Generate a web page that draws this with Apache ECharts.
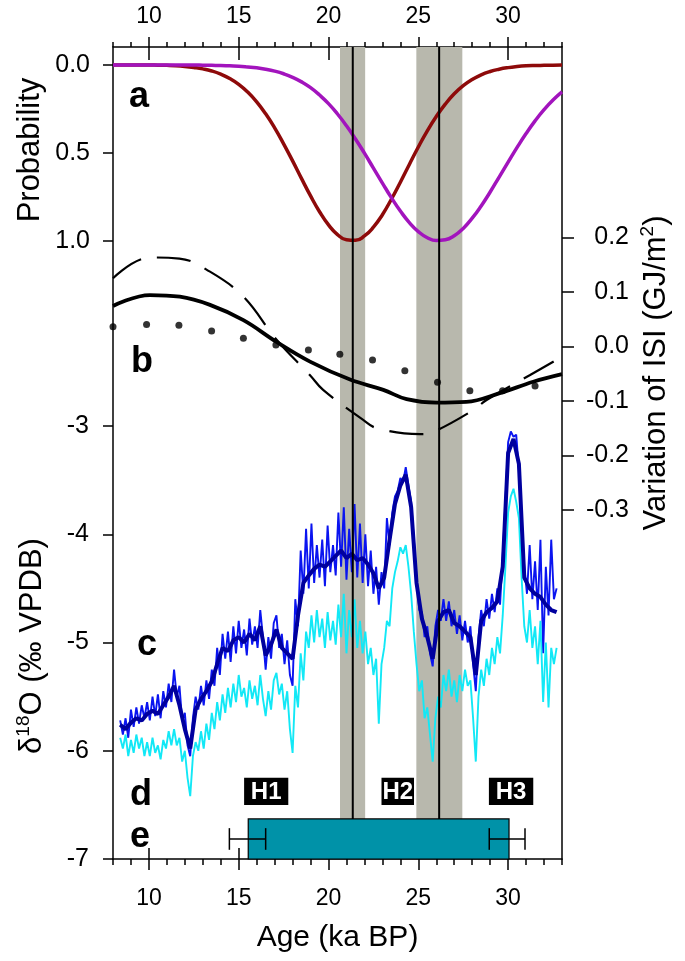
<!DOCTYPE html>
<html><head><meta charset="utf-8">
<script src="https://cdn.jsdelivr.net/npm/echarts@6/dist/echarts.min.js"></script>
<style>html,body{margin:0;padding:0;background:#fff}#c{width:685px;height:961px}</style>
</head><body><div id="c"></div>
<script>
// ---------------- DATA ----------------
const xMajorTicks = [10, 15, 20, 25, 30];
const xMinorTicks = [8,9,10,11,12,13,14,15,16,17,18,19,20,21,22,23,24,25,26,27,28,29,30,31,32,33];
const probTicks = [0, 0.5, 1];
const d18Ticks = [-7, -6, -5, -4, -3];
const isiTicks = [-0.3, -0.2, -0.1, 0, 0.1, 0.2];

// (a) probability curves
const probAges = [8,8.5,9,9.5,10,10.5,11,11.5,12,12.5,13,13.5,14,14.5,15,15.5,16,16.5,17,17.5,18,18.5,19,19.5,20,20.5,21,21.5,22,22.5,23,23.5,24,24.5,25,25.5,26,26.5,27,27.5,28,28.5,29,29.5,30,30.5,31,31.5,32,32.5,33];
const probRed = [0,0,0,0,0,0.001,0.002,0.004,0.008,0.014,0.022,0.034,0.052,0.077,0.110,0.154,0.210,0.278,0.358,0.449,0.546,0.647,0.745,0.835,0.910,0.965,0.995,0.998,0.973,0.923,0.852,0.764,0.667,0.566,0.467,0.375,0.293,0.223,0.164,0.118,0.083,0.056,0.037,0.024,0.015,0.009,0.005,0.003,0.002,0.001,0];
const probPurple = [0,0,0,0,0,0,0,0,0,0,0.001,0.002,0.003,0.005,0.007,0.011,0.016,0.024,0.035,0.050,0.070,0.096,0.129,0.171,0.220,0.279,0.346,0.421,0.502,0.587,0.672,0.755,0.831,0.897,0.948,0.983,0.999,0.995,0.972,0.930,0.872,0.802,0.723,0.638,0.553,0.469,0.390,0.318,0.254,0.199,0.153];

// (b) ISI variation
const isiSolidAges = [8.0,10.05,11.72,13.4,15.26,17.11,18.97,21.2,23.05,24.35,26.0,27.67,29.53,31.4,33.0];
const isiSolid = [0.074,0.094,0.091,0.076,0.048,0.008,-0.028,-0.061,-0.080,-0.097,-0.1035,-0.102,-0.086,-0.065,-0.051];
const isiDashAges = [8.0,10.05,11.7,13.4,15.26,17.11,18.97,19.7,21.93,22.68,25.09,25.83,28.06,28.8,31.2,33.0];
const isiDash = [0.125,0.163,0.161,0.137,0.091,0.012,-0.053,-0.080,-0.135,-0.150,-0.161,-0.157,-0.117,-0.0985,-0.053,-0.019];
const isiDotAges = [8.0,9.87,11.67,13.49,15.26,17.07,18.88,20.63,22.45,24.25,26.07,27.87,29.69,31.5];
const isiDot = [0.036,0.040,0.0385,0.028,0.0147,0.0024,-0.0068,-0.0147,-0.025,-0.0447,-0.066,-0.0814,-0.0814,-0.0728];

// (c) d18O records, sampled from 8.4 ka
const d18Start = 8.4, d18Step = 0.15;
const d18Thin = [
-5.72,-5.85,-5.70,-5.88,-5.62,-5.78,-5.60,-5.75,-5.58,-5.70,
-5.55,-5.72,-5.50,-5.68,-5.48,-5.70,-5.45,-5.60,-5.38,-5.55,
-5.25,-5.50,-5.40,-5.72,-5.65,-5.95,-6.05,-5.70,-5.50,-5.62,
-5.40,-5.58,-5.35,-5.52,-5.25,-5.40,-5.05,-5.30,-4.92,-5.15,
-4.90,-5.18,-4.85,-5.10,-4.80,-5.05,-4.88,-5.12,-4.78,-5.02,
-4.85,-5.05,-4.70,-4.95,-5.25,-4.95,-5.15,-4.82,-4.75,-5.05,
-4.92,-5.20,-4.98,-5.30,-5.40,-4.60,-4.85,-4.15,-4.55,-3.95,
-4.50,-3.90,-4.45,-4.10,-4.40,-4.05,-4.48,-3.92,-4.35,-4.10,
-4.38,-3.80,-4.30,-3.75,-4.42,-3.95,-4.35,-3.72,-4.40,-3.90,
-4.45,-4.00,-4.48,-4.15,-4.55,-4.30,-4.65,-4.35,-4.50,-3.85,
-4.10,-3.80,-3.65,-3.60,-3.48,-3.52,-3.38,-3.55,-3.70,-4.05,
-4.40,-4.70,-4.72,-4.95,-4.85,-5.10,-5.22,-4.85,-4.70,-4.80,
-4.60,-4.80,-4.62,-4.85,-4.70,-4.92,-4.75,-4.98,-4.80,-5.00,
-4.85,-5.20,-5.45,-4.95,-4.70,-4.85,-4.60,-4.78,-4.55,-4.72,
-4.50,-4.65,-4.20,-3.70,-3.15,-3.05,-3.10,-3.08,-3.40,-3.95,
-4.30,-4.55,-4.10,-4.60,-4.25,-4.70,-4.05,-5.10,-4.30,-4.75,
-4.05,-4.60,-4.50];
const d18Cyan = [
-5.88,-5.98,-5.85,-6.05,-5.90,-6.02,-5.85,-5.98,-5.88,-6.05,
-5.92,-6.05,-5.88,-6.02,-5.95,-6.08,-5.90,-5.98,-5.82,-5.95,
-5.80,-5.95,-5.88,-6.10,-6.00,-6.25,-6.42,-6.05,-5.92,-6.00,
-5.82,-5.98,-5.75,-5.90,-5.65,-5.80,-5.55,-5.72,-5.48,-5.65,
-5.42,-5.60,-5.38,-5.55,-5.30,-5.50,-5.42,-5.60,-5.35,-5.52,
-5.40,-5.58,-5.30,-5.52,-5.68,-5.45,-5.62,-5.35,-5.28,-5.48,
-5.38,-5.62,-5.45,-5.80,-6.02,-5.40,-5.60,-5.10,-5.35,-4.90,
-5.05,-4.75,-5.00,-4.70,-4.95,-4.78,-5.05,-4.72,-4.98,-4.80,
-5.02,-4.65,-4.95,-4.55,-5.10,-4.70,-4.95,-4.60,-5.05,-4.80,
-5.10,-4.90,-5.20,-5.05,-5.30,-5.15,-5.75,-5.20,-5.05,-4.80,
-4.85,-4.50,-4.35,-4.25,-4.12,-4.18,-4.10,-4.30,-4.55,-4.90,
-5.20,-5.45,-5.35,-5.70,-5.60,-5.85,-6.10,-5.70,-5.50,-5.60,
-5.30,-5.45,-5.25,-5.50,-5.35,-5.55,-5.30,-5.45,-5.25,-5.40,
-5.35,-5.70,-6.10,-5.50,-5.25,-5.40,-5.15,-5.30,-5.05,-5.20,
-4.95,-5.10,-4.75,-4.30,-3.80,-3.65,-3.58,-3.70,-3.85,-4.40,
-4.85,-5.00,-4.70,-5.05,-4.85,-5.20,-4.80,-5.55,-5.00,-5.60,
-5.05,-5.20,-5.05];
const d18SmoothStart = 8.4, d18SmoothStep = 0.3;
const d18Smooth = [
-5.76,-5.80,-5.74,-5.70,-5.72,-5.66,-5.63,-5.66,-5.58,-5.50,-5.40,-5.58,
-5.80,-5.98,-5.62,-5.52,-5.45,-5.36,-5.20,-5.05,-5.08,-4.98,-4.95,-5.00,
-4.92,-4.98,-4.85,-5.12,-5.02,-4.88,-5.05,-5.10,-5.15,-4.75,-4.45,-4.38,
-4.32,-4.28,-4.30,-4.25,-4.20,-4.15,-4.22,-4.18,-4.24,-4.22,-4.28,-4.36,
-4.50,-4.40,-4.05,-3.72,-3.55,-3.45,-3.75,-4.45,-4.78,-4.95,-5.15,-4.80,
-4.72,-4.70,-4.82,-4.85,-4.90,-4.95,-5.30,-4.80,-4.72,-4.68,-4.62,-4.30,
-3.25,-3.12,-3.35,-4.40,-4.50,-4.55,-4.58,-4.65,-4.70,-4.72];

// shaded intervals and marker lines (ka)
const bandStart = [20.64, 24.89];
const bandEnd = [22.04, 27.45];
const markerAges = [21.35, 26.16];

// (d) Heinrich events
const hLabels = ['H1', 'H2', 'H3'];
const hStart = [15.3, 22.95, 28.93];
const hEnd = [17.76, 24.76, 31.4];

// (e) interval with age uncertainty
const eStart = 15.53, eEnd = 30.05;
const eErrLeft = [14.48, 16.5];
const eErrRight = [28.95, 30.94];

// ---------------- LAYOUT ----------------
const FONT = "'Liberation Sans', Arial, Helvetica, sans-serif";
const X_MIN = 8, X_MAX = 33;
const PROB_MIN = -0.1024, PROB_MAX = 4.519;
const ISI_MIN = -0.9407, ISI_MAX = 0.5492;
const D18_MIN = -7, D18_MAX = 0.5012;
const E_TOP = -6.63, E_BOTTOM = -7, E_ERR_Y = -6.815, E_CAP = 0.1;
const H_TOP = -6.25, H_BOTTOM = -6.50;

const pairs = (xs, ys) => xs.map((x, i) => [x, ys[i]]);
const series18 = (start, step, vals) => vals.map((v, i) => [+(start + i * step).toFixed(3), v]);

const lineBlack = { color: '#000', width: 1.5 };
function xAx(pos, extra) {
  return Object.assign({
    type: 'value', min: X_MIN, max: X_MAX, position: pos, gridIndex: 0,
    splitLine: { show: false },
    axisLine: { show: false, onZero: false },
    axisTick: { show: false },
    axisLabel: { show: false }
  }, extra);
}

const chart = echarts.init(document.getElementById('c'), null, { renderer: 'canvas', width: 685, height: 961 });

const option = {
  animation: false,
  backgroundColor: '#fff',
  textStyle: { fontFamily: FONT, color: '#000' },
  grid: { left: 113, right: 123, top: 47, bottom: 102, containLabel: false, outerBoundsMode: 'none' },
  xAxis: [
    xAx('bottom', {
      axisLine: { show: true, onZero: false, lineStyle: lineBlack },
      axisTick: { show: true, customValues: xMajorTicks, length: 11, lineStyle: lineBlack },
      axisLabel: { show: true, customValues: xMajorTicks, fontSize: 23, color: '#000', margin: 28, fontFamily: FONT },
      name: 'Age (ka BP)', nameLocation: 'middle', nameGap: 64,
      nameTextStyle: { fontSize: 30, color: '#000', fontFamily: FONT }
    }),
    xAx('bottom', { axisTick: { show: true, customValues: xMinorTicks, length: 6, lineStyle: lineBlack } }),
    xAx('bottom', { axisTick: { show: true, inside: true, customValues: xMajorTicks, length: 11, lineStyle: lineBlack } }),
    xAx('top', {
      axisLine: { show: true, onZero: false, lineStyle: lineBlack },
      axisTick: { show: true, customValues: xMajorTicks, length: 10, lineStyle: lineBlack },
      axisLabel: { show: true, customValues: xMajorTicks, fontSize: 23, color: '#000', margin: 19, fontFamily: FONT }
    }),
    xAx('top', { axisTick: { show: true, customValues: xMinorTicks, length: 5, lineStyle: lineBlack } }),
    xAx('top', { axisTick: { show: true, inside: true, customValues: xMajorTicks, length: 13, lineStyle: lineBlack } })
  ],
  yAxis: [
    { type: 'value', gridIndex: 0, position: 'left', inverse: true, min: PROB_MIN, max: PROB_MAX,
      splitLine: { show: false },
      axisLine: { show: true, onZero: false, lineStyle: lineBlack },
      axisTick: { show: true, customValues: probTicks, length: 10, lineStyle: lineBlack },
      axisLabel: { show: true, customValues: probTicks, formatter: v => (+v).toFixed(1), fontSize: 25, color: '#000', margin: 23, fontFamily: FONT } },
    { type: 'value', gridIndex: 0, position: 'left', min: D18_MIN, max: D18_MAX,
      splitLine: { show: false },
      axisLine: { show: false, onZero: false },
      axisTick: { show: true, customValues: d18Ticks, length: 10, lineStyle: lineBlack },
      axisLabel: { show: true, customValues: d18Ticks, formatter: v => String(Math.round(v)), fontSize: 25, color: '#000', margin: 24, fontFamily: FONT } },
    { type: 'value', gridIndex: 0, position: 'right', min: ISI_MIN, max: ISI_MAX,
      splitLine: { show: false },
      axisLine: { show: true, onZero: false, lineStyle: lineBlack },
      axisTick: { show: true, customValues: isiTicks, length: 12, lineStyle: lineBlack },
      axisLabel: { show: true, customValues: isiTicks, formatter: v => (+v).toFixed(1), fontSize: 25, color: '#000', margin: 67, align: 'right', fontFamily: FONT } }
  ],
  series: [
    // shaded bands
    { type: 'custom', xAxisIndex: 0, yAxisIndex: 1, z: 1, silent: true,
      data: pairs(bandStart, bandEnd), encode: { x: [0, 1] },
      renderItem(params, api) {
        const p0 = api.coord([api.value(0), E_TOP]);
        const p1 = api.coord([api.value(1), E_TOP]);
        const top = params.coordSys.y;
        return { type: 'rect', shape: { x: p0[0], y: top, width: p1[0] - p0[0], height: p0[1] - top }, style: { fill: '#b8b8ad' } };
      } },
    // (a)
    { type: 'line', xAxisIndex: 0, yAxisIndex: 0, z: 3, data: pairs(probAges, probRed), smooth: true, symbol: 'none',
      lineStyle: { color: '#8e0a0a', width: 3.5 } },
    { type: 'line', xAxisIndex: 0, yAxisIndex: 0, z: 3, data: pairs(probAges, probPurple), smooth: true, symbol: 'none',
      lineStyle: { color: '#a214bd', width: 3.5 } },
    // (b)
    { type: 'line', xAxisIndex: 0, yAxisIndex: 2, z: 3, data: pairs(isiDashAges, isiDash), smooth: 0.4, symbol: 'none',
      lineStyle: { color: '#000', width: 2.2, type: [34, 16] } },
    { type: 'line', xAxisIndex: 0, yAxisIndex: 2, z: 3, data: pairs(isiSolidAges, isiSolid), smooth: 0.4, symbol: 'none',
      lineStyle: { color: '#000', width: 3.8 } },
    { type: 'scatter', xAxisIndex: 0, yAxisIndex: 2, z: 3, data: pairs(isiDotAges, isiDot), symbol: 'circle', symbolSize: 7,
      itemStyle: { color: '#000' } },
    // (c)
    { type: 'line', xAxisIndex: 0, yAxisIndex: 1, z: 3, data: series18(d18Start, d18Step, d18Thin), symbol: 'none',
      lineStyle: { color: '#0a14f0', width: 1.9 } },
    { type: 'line', xAxisIndex: 0, yAxisIndex: 1, z: 3, data: series18(d18Start, d18Step, d18Cyan), symbol: 'none',
      lineStyle: { color: '#12e8f6', width: 1.9 } },
    { type: 'line', xAxisIndex: 0, yAxisIndex: 1, z: 3, data: series18(d18SmoothStart, d18SmoothStep, d18Smooth), symbol: 'none',
      lineStyle: { color: '#00009e', width: 4 } },
    // marker lines
    { type: 'custom', xAxisIndex: 0, yAxisIndex: 1, z: 4, silent: true,
      data: markerAges.map(a => [a]), encode: { x: 0 },
      renderItem(params, api) {
        const p = api.coord([api.value(0), E_TOP]);
        return { type: 'line', shape: { x1: p[0], y1: params.coordSys.y, x2: p[0], y2: p[1] }, style: { stroke: '#000', lineWidth: 2 } };
      } },
    // (d) Heinrich boxes
    { type: 'custom', xAxisIndex: 0, yAxisIndex: 1, z: 5, silent: true,
      data: pairs(hStart, hEnd), encode: { x: [0, 1] },
      renderItem(params, api) {
        const a = api.coord([api.value(0), H_TOP]);
        const b = api.coord([api.value(1), H_BOTTOM]);
        return { type: 'group', children: [
          { type: 'rect', shape: { x: a[0], y: a[1], width: b[0] - a[0], height: b[1] - a[1] }, style: { fill: '#000' } },
          { type: 'text', style: { text: hLabels[params.dataIndex], x: (a[0] + b[0]) / 2, y: (a[1] + b[1]) / 2 + 1,
            fill: '#fff', font: 'bold 24px ' + FONT, textAlign: 'center', textVerticalAlign: 'middle' } }
        ] };
      } },
    // (e) box
    { type: 'custom', xAxisIndex: 0, yAxisIndex: 1, z: 5, silent: true,
      data: [[eStart, eEnd]], encode: { x: [0, 1] },
      renderItem(params, api) {
        const a = api.coord([api.value(0), E_TOP]);
        const b = api.coord([api.value(1), E_BOTTOM]);
        return { type: 'rect', shape: { x: a[0], y: a[1], width: b[0] - a[0], height: b[1] - a[1] },
          style: { fill: '#0092a8', stroke: '#000', lineWidth: 1.2 } };
      } },
    // (e) error bars
    { type: 'custom', xAxisIndex: 0, yAxisIndex: 1, z: 6, silent: true,
      data: [eErrLeft, eErrRight], encode: { x: [0, 1] },
      renderItem(params, api) {
        const a = api.coord([api.value(0), E_ERR_Y]);
        const b = api.coord([api.value(1), E_ERR_Y]);
        const up = api.coord([api.value(0), E_ERR_Y + E_CAP])[1];
        const dn = api.coord([api.value(0), E_ERR_Y - E_CAP])[1];
        const st = { stroke: '#000', lineWidth: 1.5 };
        return { type: 'group', children: [
          { type: 'line', shape: { x1: a[0], y1: a[1], x2: b[0], y2: b[1] }, style: st },
          { type: 'line', shape: { x1: a[0], y1: up, x2: a[0], y2: dn }, style: st },
          { type: 'line', shape: { x1: b[0], y1: up, x2: b[0], y2: dn }, style: st }
        ] };
      } }
  ],
  graphic: [
    { type: 'text', x: 30, y: 150, rotation: Math.PI / 2, silent: true,
      style: { text: 'Probability', font: '31px ' + FONT, fill: '#000', textAlign: 'center', textVerticalAlign: 'middle' } },
    { type: 'text', x: 32, y: 646, rotation: Math.PI / 2, silent: true,
      style: { text: '{m|δ}{s|18}{m|O (‰ VPDB)}', fill: '#000', textAlign: 'center', textVerticalAlign: 'middle',
        rich: { m: { fontSize: 31, fontFamily: FONT, lineHeight: 36, fill: '#000' },
                s: { fontSize: 19, fontFamily: FONT, lineHeight: 19, verticalAlign: 'top', fill: '#000' } } } },
    { type: 'text', x: 656, y: 373, rotation: Math.PI / 2, silent: true,
      style: { text: '{m|Variation of ISI (GJ/m}{s|2}{m|)}', fill: '#000', textAlign: 'center', textVerticalAlign: 'middle',
        rich: { m: { fontSize: 31, fontFamily: FONT, lineHeight: 36, fill: '#000' },
                s: { fontSize: 19, fontFamily: FONT, lineHeight: 19, verticalAlign: 'top', fill: '#000' } } } },
    { type: 'text', x: 139, y: 97, silent: true, style: { text: 'a', font: 'bold 36px ' + FONT, fill: '#000', textAlign: 'center', textVerticalAlign: 'middle' } },
    { type: 'text', x: 142, y: 362, silent: true, style: { text: 'b', font: 'bold 36px ' + FONT, fill: '#000', textAlign: 'center', textVerticalAlign: 'middle' } },
    { type: 'text', x: 147, y: 645, silent: true, style: { text: 'c', font: 'bold 36px ' + FONT, fill: '#000', textAlign: 'center', textVerticalAlign: 'middle' } },
    { type: 'text', x: 141, y: 795, silent: true, style: { text: 'd', font: 'bold 36px ' + FONT, fill: '#000', textAlign: 'center', textVerticalAlign: 'middle' } },
    { type: 'text', x: 140, y: 837, silent: true, style: { text: 'e', font: 'bold 36px ' + FONT, fill: '#000', textAlign: 'center', textVerticalAlign: 'middle' } }
  ]
};
chart.setOption(option);
</script>
</body></html>
